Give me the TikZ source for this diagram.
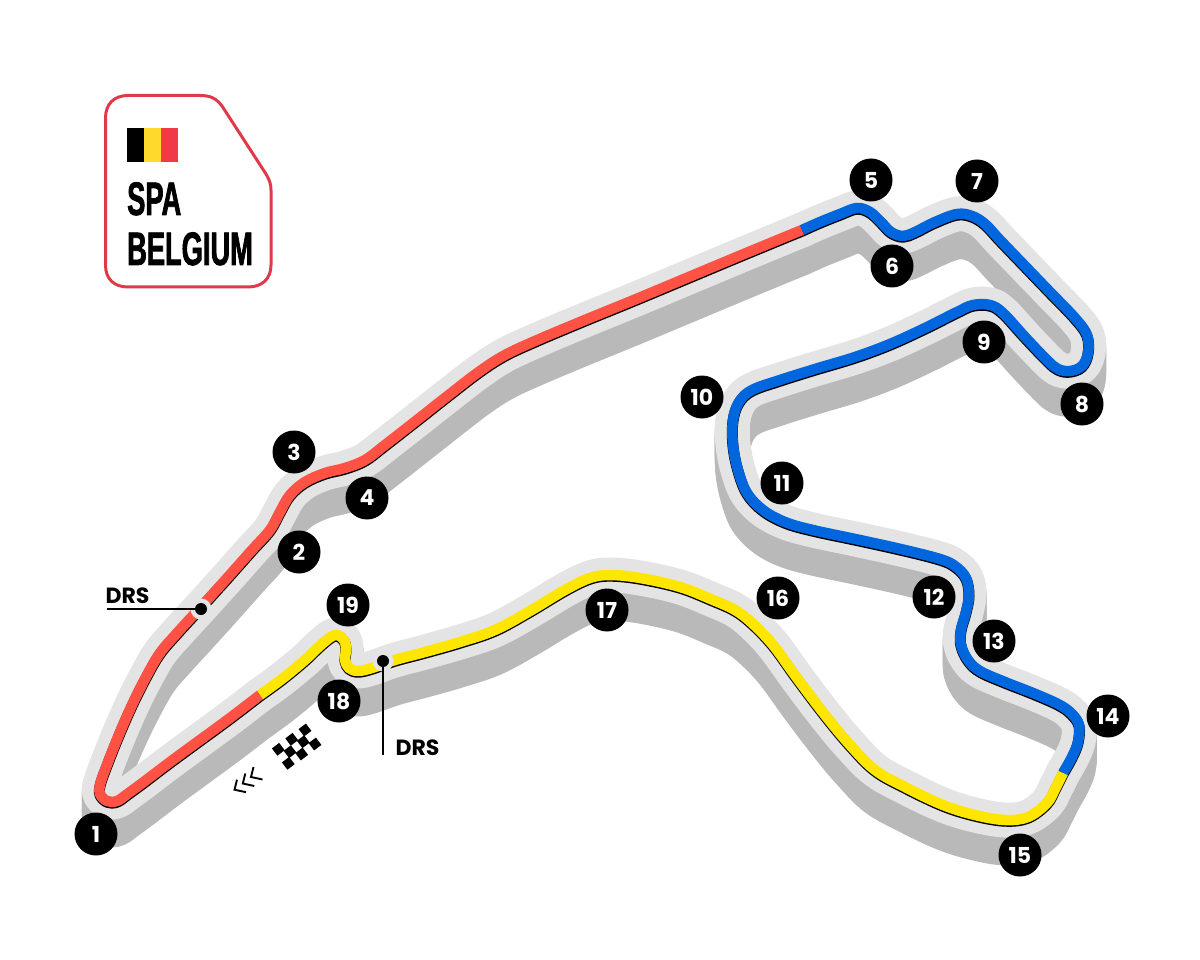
\documentclass[tikz,border=0pt]{standalone}
\usepackage{fontspec}
\setmainfont{Poppins}
\newfontfamily\titlefont[FakeStretch=0.58,BoldFeatures={FakeBold=1.5}]{Liberation Sans}
\definecolor{trackshade}{HTML}{B9B9B9}
\definecolor{tracklight}{HTML}{E4E4E4}
\definecolor{trackred}{HTML}{FF5245}
\definecolor{trackyellow}{HTML}{FFE600}
\definecolor{trackblue}{HTML}{0066DD}
\definecolor{logored}{HTML}{E03A4A}
\definecolor{flagyellow}{HTML}{FFD92B}
\definecolor{flagred}{HTML}{F03A47}
\def\redseg{plot[smooth,tension=.6] coordinates {(802,230) (745,253.5) (690,276.5) (635,299.5) (580,322) (535,341) (505,355) (480,371) (450,394) (417,420) (385,445) (365,460) (345,468) (325,473) (305,482) (290,495) (280,512) (270,530) (252,550) (228,577) (200,608) (178,632) (160,653) (146,677) (132,705) (118,737) (105,770) (100,785) (100,794) (107,801) (117,801) (128,793.5) (145,781) (170,762) (200,740) (230,718) (260,695)}}
\def\yellowseg{plot[smooth,tension=.6] coordinates {(260,695) (282,679) (305,660) (322,644) (335,635) (344,640) (346,650) (345,660) (349,668) (358,671) (372,668) (395,660) (425,652) (460,642) (495,630) (530,611) (565,590) (590,578) (610,575) (640,578) (680,587) (713,600) (735,610) (752,623) (773,645) (797,678) (825,715) (850,745) (875,770) (905,787) (943,805) (975,815) (1005,820) (1028,817) (1047,803) (1056,787) (1063,773)}}
\def\blueseg{plot[smooth,tension=.6] coordinates {(1063,773) (1072,757) (1078,742) (1079,725) (1071,713) (1058,704) (1033,693) (1005,682) (980,671) (968,660) (961,645) (961,630) (966,612) (969,595) (966,578) (955,566) (940,559) (905,550) (860,540) (813,530) (785,522) (763,510) (747,493) (738,470) (733,445) (733,420) (739,402) (752,390) (780,380) (815,369) (855,357) (890,344) (925,328) (957,312) (973,305) (990,305) (1003,313) (1025,337) (1047,360) (1058,369) (1070,371) (1082,366) (1088,353) (1087,335) (1075,318) (1050,292) (1025,266) (1000,240) (985,224) (972,216) (957,214) (935,222) (915,232) (903,236) (891,232) (881,222) (870,212) (857,208) (840,214) (820,222) (802,230)}}
\tikzset{
  badge/.style={circle,fill=black,text=white,minimum size=43pt,inner sep=0pt,font=\fontsize{22}{22}\selectfont\bfseries},
  drslabel/.style={font=\fontsize{22}{22}\selectfont\bfseries,inner sep=0pt},
  titletext/.style={font=\titlefont\bfseries\fontsize{47}{47}\selectfont,inner sep=0pt,anchor=base west},
  shadebase/.style={draw=trackshade,line width=35pt,line cap=round,line join=round},
  lightbase/.style={draw=tracklight,line width=35pt,line cap=round,line join=round},
  edgeline/.style={draw=black,line width=11pt,line join=round},
  drsline/.style={draw=black,line width=1.6pt},
  chevron/.style={draw=black,line width=1.9pt}
}
\begin{document}
\begin{tikzpicture}[x=1pt,y=-1pt]
\useasboundingbox (0,0) rectangle (1200,960);
% extruded shadow
\foreach \o in {2,4,...,28}{
  \begin{scope}[shift={(0,\o)}]
    \draw[shadebase] \redseg; \draw[shadebase] \yellowseg; \draw[shadebase] \blueseg;
  \end{scope}}
% light band
\draw[lightbase] \redseg; \draw[lightbase] \yellowseg; \draw[lightbase] \blueseg;
% black edge
\begin{scope}[shift={(0,1.2)}]
  \draw[edgeline] \redseg; \draw[edgeline] \yellowseg; \draw[edgeline] \blueseg;
\end{scope}
% coloured sectors
\draw[trackred,line width=10.5pt,line join=round] \redseg;
\draw[trackblue,line width=10.5pt,line join=round] \blueseg;
\draw[trackyellow,line width=10.5pt,line join=round] \yellowseg;
% DRS
\coordinate (drsA) at (201,609);
\coordinate (drsAend) at (107,609);
\coordinate (drsB) at (383,661);
\coordinate (drsBend) at (383,755);
\fill[tracklight] (drsA) circle (10.5pt);
\fill[tracklight] (drsB) circle (10.5pt);
\draw[drsline] (drsA) -- (drsAend);
\draw[drsline] (drsB) -- (drsBend);
\fill[black] (drsA) circle (6pt);
\fill[black] (drsB) circle (6pt);
\node[drslabel] (drsAlabel) at (127.5,596) {DRS};
\node[drslabel] (drsBlabel) at (417.5,748) {DRS};
% chequered flag
\foreach \cx/\cy in {305/730,291.7/739.3,303.3/741.7,315/744,278.3/749.3,290/751.7,301.7/754,288.3/763.3}{
  \fill[black] (\cx-6.4,\cy-0.9) -- (\cx+0.9,\cy-6.4) -- (\cx+6.4,\cy+0.9) -- (\cx-0.9,\cy+6.4) -- cycle;
}
% chevrons
\foreach \dx/\dy in {0/0,-8.2/6.5,-16.5/12.7}{
  \draw[chevron] (253.5+\dx,767+\dy) -- (251+\dx,777+\dy) -- (262.5+\dx,779.5+\dy);
}
% badges
\node[badge] (t1) at (96,834) {1};
\node[badge] (t2) at (299,552) {2};
\node[badge] (t3) at (294,452) {3};
\node[badge] (t4) at (367,498) {4};
\node[badge] (t5) at (871,180) {5};
\node[badge] (t6) at (892,266) {6};
\node[badge] (t7) at (977,181) {7};
\node[badge] (t8) at (1082,404) {8};
\node[badge] (t9) at (984,342) {9};
\node[badge] (t10) at (702,397) {10};
\node[badge] (t11) at (782,483) {11};
\node[badge] (t12) at (934,597) {12};
\node[badge] (t13) at (994,641) {13};
\node[badge] (t14) at (1108,716) {14};
\node[badge] (t15) at (1020,855) {15};
\node[badge] (t16) at (778,598) {16};
\node[badge] (t17) at (607,610) {17};
\node[badge] (t18) at (339,701) {18};
\node[badge] (t19) at (348,605) {19};
% logo
\draw[logored,line width=3pt,line join=round]
  (128,95.5) -- (200,95.5) .. controls (210,95.5) and (216,98) .. (222,106)
  -- (266,174) .. controls (269.5,180) and (271,184) .. (271,190)
  -- (271,265) .. controls (271,279) and (262,287) .. (248,287)
  -- (128,287) .. controls (114,287) and (105.5,279) .. (105.5,265)
  -- (105.5,118) .. controls (105.5,104) and (114,95.5) .. (128,95.5) -- cycle;
\fill[black] (127,128) rectangle (144,162);
\fill[flagyellow] (144,128) rectangle (161,162);
\fill[flagred] (161,128) rectangle (178,162);
\node[titletext] (spa) at (127,215) {SPA};
\node[titletext] (belgium) at (127,265) {BELGIUM};
\end{tikzpicture}
\end{document}
